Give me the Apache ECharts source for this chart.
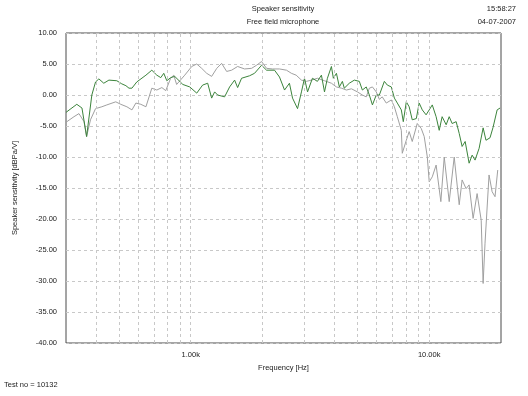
<!DOCTYPE html>
<html><head><meta charset="utf-8">
<script src="https://cdn.jsdelivr.net/npm/echarts@6/dist/echarts.min.js"></script>
<style>html,body{margin:0;padding:0;background:#fff}#c{width:528px;height:396px}</style>
</head><body><div id="c"></div>
<script>
var titleLines = ['Speaker sensitivity', 'Free field microphone'];
var timeLines = ['15:58:27', '04-07-2007'];
var footerText = 'Test no = 10132';
var xAxisName = 'Frequency [Hz]';
var yAxisName = 'Speaker sensitivity [dBPa/V]';
var xTickValues = [1000, 10000];
var xTickLabels = ['1.00k', '10.00k'];
var xGridLines = [400,500,600,700,800,900,1000,2000,3000,4000,5000,6000,7000,8000,9000,10000];

var greenFreq = [300,333,350,366,385,399,412,432,454,490,514,535,551,567,594,649,687,721,749,771,794,824,857,927,991,1060,1122,1178,1224,1260,1297,1387,1456,1528,1573,1634,1765,1852,1982,2080,2246,2357,2474,2594,2673,2805,2913,3000,3090,3239,3398,3532,3639,3743,3890,3964,4083,4201,4325,4406,4624,4853,5093,5245,5445,5610,5780,5998,6180,6485,6675,6937,7145,7350,7640,7786,8017,8241,8490,8830,9078,9354,9705,10000,10300,10690,11015,11330,11780,12130,12480,12970,13360,13740,14150,14700,15140,15570,16190,16830,17300,17990,18530,19270,19820];
var greenVals = [-2.8,-1.5,-2.1,-6.7,0,2.1,2.6,1.9,2.4,2.3,1.8,1.5,1.1,1.1,2.1,3.2,4.0,3.2,2.8,3.5,2.3,2.8,3.0,1.7,1.3,0.3,1.6,1.9,-0.5,0.5,0,-0.3,1.3,2.4,1.2,2.7,3.1,3.5,4.8,4.0,4.0,2.9,0.8,1.9,-0.5,-2.2,0.5,2.7,0.5,2.7,2.2,3.2,0.5,2.7,4.6,2.7,3.5,1.3,2.2,1.1,1.9,2.4,2.2,0.8,1.3,0,-1.6,0,0,2.2,1.6,1.3,-0.5,-1.3,-2.4,-4.3,-1.1,-1.9,-4.0,-3.8,-1.3,-2.4,-3.2,-2.4,-1.6,-3.5,-5.7,-3.5,-4.8,-3.5,-4.6,-4.3,-6.2,-8.3,-7.5,-11.0,-9.7,-10.5,-8.6,-5.3,-7.3,-6.9,-5.2,-2.4,-2.1];

var grayFreq = [300,324,340,357,366,380,399,424,445,485,509,540,567,589,618,649,687,721,757,786,824,849,873,944,1010,1060,1112,1167,1224,1286,1348,1415,1484,1573,1682,1800,1888,1982,2080,2204,2357,2522,2643,2768,2913,3054,3208,3398,3639,3890,4083,4285,4497,4721,5000,5245,5445,5610,5780,5998,6180,6355,6607,6937,7145,7350,7640,7710,8017,8241,8490,8910,9260,9530,9820,10000,10300,10690,11190,11560,12130,12730,13360,13740,14280,14700,15280,15880,16520,16830,17140,17820,18360,18880,19380];
var grayVals = [-4.4,-3.5,-3.0,-4.3,-6.7,-4.0,-2.2,-1.9,-1.6,-1.1,-1.5,-1.9,-2.4,-1.3,-1.5,-1.9,1.1,0.8,1.2,0.7,2.7,3.2,1.7,3.2,4.6,5.0,4.3,3.5,3.0,4.3,5.1,3.8,4.0,4.6,4.2,4.3,4.8,5.4,4.3,4.2,4.2,4.0,3.5,3.2,2.4,2.2,2.4,2.7,2.3,1.9,1.3,1.1,0.8,1.0,0.5,0,-0.3,1.1,1.3,0.5,-0.7,-0.3,-1.3,-0.8,-1.9,-3.5,-5.7,-9.4,-7.3,-5.9,-7.5,-4.6,-5.4,-6.7,-10.0,-14.0,-13.2,-11.3,-17.2,-10.0,-17.2,-10.0,-17.7,-13.7,-15.1,-14.5,-19.9,-15.9,-20.2,-30.4,-23.9,-12.9,-15.6,-16.4,-12.1];

function pairs(xs, ys){ return xs.map(function(x,i){ return [x, ys[i]]; }); }
var FONT = 'Liberation Sans';
var chart = echarts.init(document.getElementById('c'), null, {renderer:'canvas'});
chart.setOption({
  backgroundColor: '#ffffff',
  animation: false,
  grid: { left: 66, right: 27, top: 33, bottom: 53, show: true, borderColor: '#4a4a4a', borderWidth: 1, backgroundColor: 'transparent' },
  graphic: [
    { type: 'text', x: 283, y: 5, style: { text: titleLines[0], textAlign: 'center', fontFamily: FONT, fontSize: 7.5, fill: '#222' } },
    { type: 'text', x: 283, y: 18, style: { text: titleLines[1], textAlign: 'center', fontFamily: FONT, fontSize: 7.5, fill: '#222' } },
    { type: 'text', x: 516, y: 5, style: { text: timeLines[0], textAlign: 'right', fontFamily: FONT, fontSize: 7.5, fill: '#222' } },
    { type: 'text', x: 516, y: 18, style: { text: timeLines[1], textAlign: 'right', fontFamily: FONT, fontSize: 7.5, fill: '#222' } },
    { type: 'text', x: 4, y: 381, style: { text: footerText, textAlign: 'left', fontFamily: FONT, fontSize: 7.5, fill: '#222' } }
  ],
  xAxis: {
    type: 'log', logBase: 10, min: 300, max: 20000,
    name: xAxisName, nameLocation: 'middle', nameGap: 16,
    nameTextStyle: { fontFamily: FONT, fontSize: 7.5, color: '#222' },
    axisLine: { show: false }, axisTick: { show: false },
    splitLine: { show: false },
    axisLabel: { margin: 8, fontFamily: FONT, fontSize: 7.5, color: '#222',
      formatter: function(v){ var i = xTickValues.indexOf(Math.round(v)); return i >= 0 ? xTickLabels[i] : ''; } }
  },
  yAxis: {
    type: 'value', min: -40, max: 10, interval: 5,
    name: yAxisName, nameLocation: 'middle', nameRotate: 90, nameGap: 47,
    nameTextStyle: { fontFamily: FONT, fontSize: 7.5, color: '#222' },
    axisLine: { show: false }, axisTick: { show: false },
    splitLine: { show: true, lineStyle: { color: '#c8c8c8', type: [3,3], width: 1 } },
    axisLabel: { margin: 9, fontFamily: FONT, fontSize: 7.5, color: '#222',
      formatter: function(v){ return v.toFixed(2); } }
  },
  series: [
    { type: 'line', data: [], z: 1, silent: true,
      markLine: { silent: true, symbol: ['none','none'], label: { show: false },
        lineStyle: { color: '#c8c8c8', type: [3,3], width: 1 },
        data: xGridLines.map(function(v){ return { xAxis: v }; }) } },
    { type: 'line', name: 'gray', data: pairs(grayFreq, grayVals), z: 3, showSymbol: false, symbol: 'none',
      lineStyle: { color: '#a0a0a0', width: 1 } },
    { type: 'line', name: 'green', data: pairs(greenFreq, greenVals), z: 4, showSymbol: false, symbol: 'none',
      lineStyle: { color: '#3c843c', width: 1 } }
  ]
});
</script></body></html>
